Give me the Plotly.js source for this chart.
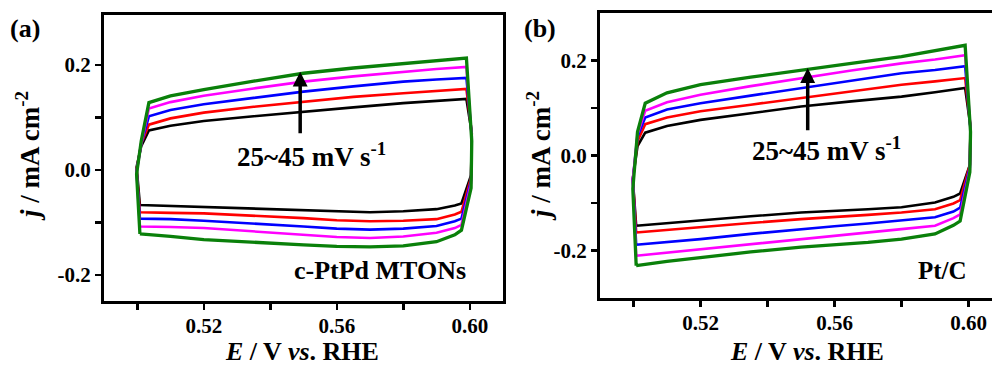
<!DOCTYPE html>
<html>
<head>
<meta charset="utf-8">
<script src="https://cdn.plot.ly/plotly-3.0.1.min.js"></script>
<style>
html,body{margin:0;padding:0;background:#fff;overflow:hidden;width:992px;height:367px;}
#chart{width:1002px;height:367px;}
</style>
</head>
<body>
<div id="chart"></div>
<script>
// Potential (V vs RHE) along each closed CV loop: left edge, anodic sweep, right edge, cathodic sweep
const potential = [0.5008, 0.4998, 0.5012, 0.5035, 0.51, 0.52, 0.535, 0.55, 0.565, 0.58, 0.59, 0.599,
                   0.6006, 0.6004, 0.5975, 0.5955, 0.59, 0.58, 0.57, 0.56, 0.55, 0.535, 0.52, 0.51, 0.5008];

// Panel (a) c-PtPd MTONs, current density (mA cm-2)
const a_25 = [-0.067, 0.005, 0.045, 0.075, 0.084, 0.093, 0.102, 0.111, 0.119, 0.127, 0.131, 0.135, 0.07, -0.01, -0.064, -0.068, -0.075, -0.079, -0.081, -0.079, -0.076, -0.073, -0.070, -0.068, -0.067];
const a_30 = [-0.081, 0.0, 0.05, 0.086, 0.098, 0.109, 0.120, 0.130, 0.139, 0.146, 0.150, 0.154, 0.07, -0.015, -0.080, -0.085, -0.094, -0.097, -0.098, -0.096, -0.092, -0.087, -0.083, -0.082, -0.081];
const a_35 = [-0.093, -0.003, 0.05, 0.102, 0.114, 0.125, 0.137, 0.149, 0.159, 0.168, 0.172, 0.175, 0.065, -0.02, -0.093, -0.098, -0.107, -0.112, -0.114, -0.112, -0.108, -0.102, -0.097, -0.094, -0.093];
const a_40 = [-0.108, -0.005, 0.05, 0.117, 0.129, 0.141, 0.155, 0.168, 0.178, 0.187, 0.192, 0.196, 0.06, -0.025, -0.105, -0.111, -0.120, -0.127, -0.130, -0.128, -0.124, -0.117, -0.111, -0.109, -0.108];
const a_45 = [-0.122, -0.008, 0.055, 0.128, 0.141, 0.153, 0.169, 0.184, 0.194, 0.203, 0.208, 0.213, 0.055, -0.035, -0.115, -0.124, -0.137, -0.145, -0.147, -0.146, -0.143, -0.138, -0.133, -0.127, -0.122];

// Panel (b) Pt/C
const b_25 = [-0.148, -0.05, 0.02, 0.048, 0.062, 0.075, 0.089, 0.103, 0.114, 0.124, 0.133, 0.142, 0.06, -0.02, -0.08, -0.087, -0.099, -0.109, -0.113, -0.116, -0.120, -0.128, -0.137, -0.143, -0.148];
const b_30 = [-0.162, -0.05, 0.03, 0.066, 0.080, 0.093, 0.107, 0.121, 0.135, 0.149, 0.156, 0.163, 0.06, -0.02, -0.094, -0.101, -0.113, -0.120, -0.125, -0.129, -0.134, -0.142, -0.151, -0.157, -0.162];
const b_35 = [-0.188, -0.05, 0.04, 0.080, 0.097, 0.110, 0.126, 0.142, 0.158, 0.173, 0.180, 0.188, 0.055, -0.025, -0.11, -0.118, -0.130, -0.137, -0.143, -0.149, -0.155, -0.165, -0.176, -0.182, -0.188];
const b_40 = [-0.211, -0.05, 0.045, 0.094, 0.112, 0.128, 0.146, 0.163, 0.179, 0.194, 0.202, 0.211, 0.055, -0.03, -0.124, -0.132, -0.148, -0.155, -0.162, -0.169, -0.176, -0.187, -0.198, -0.205, -0.211];
const b_45 = [-0.232, -0.07, 0.05, 0.110, 0.132, 0.149, 0.165, 0.180, 0.194, 0.208, 0.220, 0.232, 0.05, -0.035, -0.138, -0.147, -0.165, -0.176, -0.183, -0.188, -0.193, -0.203, -0.214, -0.223, -0.232];

const scanRates = ['25 mV/s', '30 mV/s', '35 mV/s', '40 mV/s', '45 mV/s'];
const colors = ['#000000', '#ff0000', '#0000ff', '#ff00ff', '#0a800a'];
const widths = [2.6, 2.6, 2.6, 2.6, 3.3];

const xTickVals = [0.52, 0.56, 0.60];
const xTickText = ['0.52', '0.56', '0.60'];
const xMinorVals = [0.50, 0.54, 0.58];
const yTickVals = [-0.2, 0.0, 0.2];
const yTickText = ['-0.2', '0.0', '0.2'];
const yMinorVals = [-0.1, 0.1];

const seriesA = [a_25, a_30, a_35, a_40, a_45];
const seriesB = [b_25, b_30, b_35, b_40, b_45];

const FONT = 'Liberation Serif, Times New Roman, serif';
const traces = [];
seriesA.forEach((ys, i) => traces.push({x: potential, y: ys, type: 'scatter', mode: 'lines', name: scanRates[i],
  line: {color: colors[i], width: widths[i]}, xaxis: 'x', yaxis: 'y'}));
seriesB.forEach((ys, i) => traces.push({x: potential, y: ys, type: 'scatter', mode: 'lines', name: scanRates[i],
  line: {color: colors[i], width: widths[i]}, xaxis: 'x2', yaxis: 'y2'}));

function xax(domain) {
  return {domain: domain, range: [0.49, 0.61], tickmode: 'array', tickvals: xTickVals, ticktext: xTickText,
    ticks: 'outside', ticklen: 6, tickwidth: 2.5, tickcolor: '#000', showline: true, linewidth: 3, linecolor: '#000',
    mirror: true, showgrid: false, zeroline: false, ticklabelstandoff: -2,
    tickfont: {family: FONT, size: 21, color: '#000', weight: 'bold'},
    minor: {tickmode: 'array', tickvals: xMinorVals, ticks: 'outside', ticklen: 6, tickwidth: 2.5, tickcolor: '#000', showgrid: false}};
}
function yax(domain, range) {
  return {domain: domain, range: range, tickmode: 'array', tickvals: yTickVals, ticktext: yTickText,
    ticks: 'outside', ticklen: 6, tickwidth: 2.5, tickcolor: '#000', showline: true, linewidth: 3, linecolor: '#000',
    mirror: true, showgrid: false, zeroline: false,
    tickfont: {family: FONT, size: 21, color: '#000', weight: 'bold'},
    minor: {tickmode: 'array', tickvals: yMinorVals, ticks: 'outside', ticklen: 6, tickwidth: 2.5, tickcolor: '#000', showgrid: false}};
}

const W = 1002, H = 367;
function txt(text, px, py, size, angle) {
  return {text: text, xref: 'paper', yref: 'paper', x: px / W, y: 1 - py / H, xanchor: 'center', yanchor: 'middle',
    showarrow: false, textangle: angle || 0, font: {family: FONT, size: size, color: '#000', weight: 'bold'}};
}
function arrow(xr, yr, x, y0, y1) {
  return {xref: xr, yref: yr, x: x, y: y1, ax: x, ay: y0, axref: xr, ayref: yr, text: '', showarrow: true,
    arrowhead: 2, arrowsize: 0.85, arrowwidth: 3.5, arrowcolor: '#000'};
}

const layout = {
  width: W, height: H, margin: {l: 0, r: 0, t: 0, b: 0}, showlegend: false,
  paper_bgcolor: '#fff', plot_bgcolor: '#fff',
  xaxis: xax([104 / W, 503 / W]),
  yaxis: yax([1 - 301 / H, 1 - 15 / H], [-0.25, 0.295]),
  xaxis2: Object.assign(xax([600 / W, 1.0]), {anchor: 'y2'}),
  yaxis2: Object.assign(yax([1 - 298 / H, 1 - 13 / H], [-0.3, 0.3]), {anchor: 'x2'}),
  annotations: [
    txt('(a)', 25, 28, 26),
    txt('(b)', 540, 28, 26),
    txt('<i>E</i> / V <i>vs</i>. RHE', 302, 351, 26),
    txt('<i>E</i> / V <i>vs</i>. RHE', 807, 351, 26),
    txt('<i>j</i> / mA cm<sup>-2</sup>', 28, 156, 27, -90),
    txt('<i>j</i> / mA cm<sup>-2</sup>', 539, 156, 27, -90),
    txt('25~45 mV s<sup>-1</sup>', 311, 155, 27),
    txt('25~45 mV s<sup>-1</sup>', 826, 149, 27),
    txt('c-PtPd MTONs', 380, 270, 26),
    txt('Pt/C', 942, 270, 25),
    arrow('x', 'y', 0.549, 0.067, 0.187),
    arrow('x2', 'y2', 0.552, 0.05, 0.184)
  ]
};
layout.xaxis.anchor = 'y';
layout.yaxis.anchor = 'x';

Plotly.newPlot('chart', traces, layout, {displayModeBar: false, staticPlot: true});
</script>
</body>
</html>
